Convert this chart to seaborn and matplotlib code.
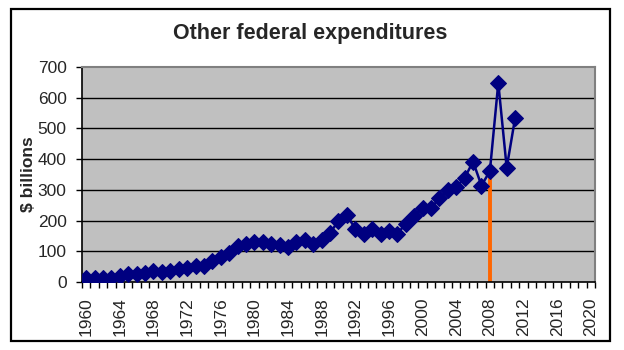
import numpy as np
import pandas as pd
import seaborn as sns
import matplotlib
matplotlib.use("Agg")
import matplotlib.pyplot as plt
from matplotlib.patches import Rectangle

# data ($ billions)
years = list(range(1960, 2012))
spending = [14, 14, 14, 14, 19, 26, 25, 30, 36, 31,
            36, 42, 44, 52, 52, 69, 82, 93, 118, 125,
            130, 130, 125, 120, 114, 130, 138, 125, 136, 160,
            199, 219, 172, 157, 172, 157, 166, 157, 190, 215,
            241, 241, 272, 298, 309, 339, 392, 314, 361, 648,
            372, 534]
marker_year = 2008
year_labels = list(range(1960, 2021, 4))
y_ticks = [0, 100, 200, 300, 400, 500, 600, 700]

df = pd.DataFrame({"year": years, "spending": spending})

sns.set_style("white")
plt.rcParams['font.family'] = ['Liberation Sans', 'DejaVu Sans']

fig = plt.figure(figsize=(6.24, 3.5), dpi=100)
fig.patch.set_facecolor("white")
# chart-area border
fig.patches.append(Rectangle((11/624, 9/350), 599/624, 332/350, transform=fig.transFigure,
                             fill=False, edgecolor="black", linewidth=1.6))

ax = fig.add_axes([82/624, 68/350, 513/624, 215/350])
ax.set_facecolor("#C0C0C0")

# orange drop line at 2008
v2008 = spending[years.index(marker_year)]
ax.vlines(marker_year, 0, v2008, color="#FF6600", linewidth=2.8, zorder=2)

sns.lineplot(data=df, x="year", y="spending", ax=ax, color="#000080",
             marker="D", markersize=8.5, markeredgecolor="#000080",
             linewidth=1.8, zorder=3)

ax.set_xlim(1959.5, 2020.5)
ax.set_ylim(0, 700)
ax.set_yticks(y_ticks)
ax.set_yticklabels([str(t) for t in y_ticks], fontsize=12.5)
for t in y_ticks[1:-1]:
    ax.axhline(t, color="black", linewidth=1, zorder=1)

ax.set_xticks(year_labels)
ax.set_xticklabels([str(y) for y in year_labels], rotation=90, fontsize=12.5)
ax.set_xticks(np.arange(1959.5, 2021, 1), minor=True)
ax.tick_params(axis="x", which="major", length=0, pad=11)
ax.tick_params(axis="x", which="minor", length=4, width=1, direction="out", color="black")
ax.tick_params(axis="y", length=4, width=1, direction="out", color="black", pad=7)
ax.xaxis.set_ticks_position("bottom")
ax.yaxis.set_ticks_position("left")

for s in ["left", "bottom"]:
    ax.spines[s].set_color("black")
    ax.spines[s].set_linewidth(1.2)
for s in ["top", "right"]:
    ax.spines[s].set_color("#808080")
    ax.spines[s].set_linewidth(1.5)

ax.set_xlabel("")
ax.set_ylabel("$ billions", fontsize=12.5, fontweight="bold", labelpad=1)
fig.text(0.497, 0.905, "Other federal expenditures", ha="center", va="center",
         fontsize=15.5, fontweight="bold")

fig.savefig("out.png", dpi=100)
